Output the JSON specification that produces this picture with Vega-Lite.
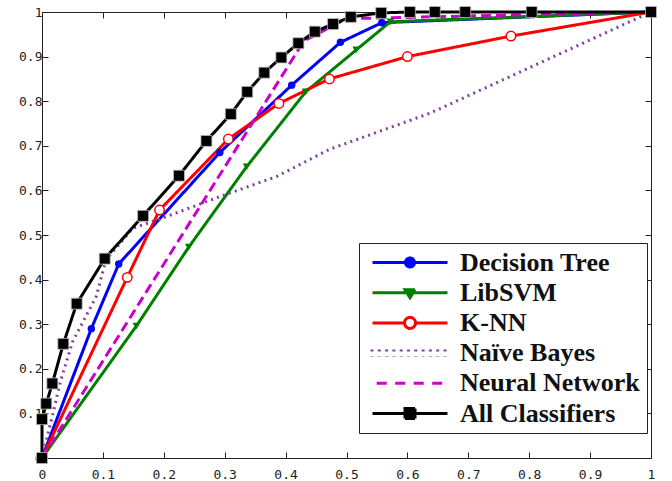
{
  "$schema": "https://vega.github.io/schema/vega-lite/v6.json",
  "autosize": {"type": "none"},
  "padding": {"left": 42, "top": 12, "right": 21, "bottom": 23},
  "width": 609,
  "height": 446,
  "background": "white",
  "config": {
    "view": {"stroke": "#222", "strokeWidth": 1},
    "axis": {"domain": false, "grid": false, "tickColor": "#222", "tickSize": -6, "labelFont": "DejaVu Sans Mono", "labelFontSize": 13, "labelColor": "#222", "labelFlush": false}
  },
  "data": {"values": [
    {"series": "Decision Tree", "fpr": 0, "tpr": 0},
    {"series": "Decision Tree", "fpr": 0.081, "tpr": 0.29},
    {"series": "Decision Tree", "fpr": 0.126, "tpr": 0.435},
    {"series": "Decision Tree", "fpr": 0.292, "tpr": 0.685},
    {"series": "Decision Tree", "fpr": 0.41, "tpr": 0.836},
    {"series": "Decision Tree", "fpr": 0.49, "tpr": 0.932},
    {"series": "Decision Tree", "fpr": 0.558, "tpr": 0.976},
    {"series": "Decision Tree", "fpr": 1, "tpr": 1},
    {"series": "LibSVM", "fpr": 0, "tpr": 0},
    {"series": "LibSVM", "fpr": 0.155, "tpr": 0.296},
    {"series": "LibSVM", "fpr": 0.241, "tpr": 0.473},
    {"series": "LibSVM", "fpr": 0.336, "tpr": 0.653},
    {"series": "LibSVM", "fpr": 0.433, "tpr": 0.821},
    {"series": "LibSVM", "fpr": 0.516, "tpr": 0.915},
    {"series": "LibSVM", "fpr": 0.572, "tpr": 0.978},
    {"series": "LibSVM", "fpr": 1, "tpr": 1},
    {"series": "K-NN", "fpr": 0, "tpr": 0},
    {"series": "K-NN", "fpr": 0.14, "tpr": 0.405},
    {"series": "K-NN", "fpr": 0.193, "tpr": 0.556},
    {"series": "K-NN", "fpr": 0.306, "tpr": 0.715},
    {"series": "K-NN", "fpr": 0.389, "tpr": 0.795},
    {"series": "K-NN", "fpr": 0.472, "tpr": 0.85},
    {"series": "K-NN", "fpr": 0.6, "tpr": 0.9},
    {"series": "K-NN", "fpr": 0.77, "tpr": 0.946},
    {"series": "K-NN", "fpr": 1, "tpr": 1},
    {"series": "Naïve Bayes", "fpr": 0, "tpr": 0},
    {"series": "Naïve Bayes", "fpr": 0.018, "tpr": 0.1},
    {"series": "Naïve Bayes", "fpr": 0.03, "tpr": 0.17},
    {"series": "Naïve Bayes", "fpr": 0.05, "tpr": 0.26},
    {"series": "Naïve Bayes", "fpr": 0.089, "tpr": 0.362},
    {"series": "Naïve Bayes", "fpr": 0.105, "tpr": 0.444},
    {"series": "Naïve Bayes", "fpr": 0.149, "tpr": 0.515},
    {"series": "Naïve Bayes", "fpr": 0.204, "tpr": 0.541},
    {"series": "Naïve Bayes", "fpr": 0.292, "tpr": 0.586},
    {"series": "Naïve Bayes", "fpr": 0.385, "tpr": 0.631},
    {"series": "Naïve Bayes", "fpr": 0.472, "tpr": 0.692},
    {"series": "Naïve Bayes", "fpr": 0.637, "tpr": 0.773},
    {"series": "Naïve Bayes", "fpr": 1, "tpr": 1},
    {"series": "Neural Network", "fpr": 0, "tpr": 0},
    {"series": "Neural Network", "fpr": 0.43, "tpr": 0.935},
    {"series": "Neural Network", "fpr": 0.5, "tpr": 0.985},
    {"series": "Neural Network", "fpr": 1, "tpr": 1},
    {"series": "All Classifiers", "fpr": 0, "tpr": 0},
    {"series": "All Classifiers", "fpr": 0, "tpr": 0.087},
    {"series": "All Classifiers", "fpr": 0.007, "tpr": 0.122},
    {"series": "All Classifiers", "fpr": 0.017, "tpr": 0.167},
    {"series": "All Classifiers", "fpr": 0.035, "tpr": 0.256},
    {"series": "All Classifiers", "fpr": 0.057, "tpr": 0.346},
    {"series": "All Classifiers", "fpr": 0.103, "tpr": 0.447},
    {"series": "All Classifiers", "fpr": 0.166, "tpr": 0.543},
    {"series": "All Classifiers", "fpr": 0.225, "tpr": 0.633},
    {"series": "All Classifiers", "fpr": 0.27, "tpr": 0.711},
    {"series": "All Classifiers", "fpr": 0.31, "tpr": 0.771},
    {"series": "All Classifiers", "fpr": 0.337, "tpr": 0.821},
    {"series": "All Classifiers", "fpr": 0.365, "tpr": 0.864},
    {"series": "All Classifiers", "fpr": 0.393, "tpr": 0.898},
    {"series": "All Classifiers", "fpr": 0.421, "tpr": 0.93},
    {"series": "All Classifiers", "fpr": 0.448, "tpr": 0.956},
    {"series": "All Classifiers", "fpr": 0.478, "tpr": 0.973},
    {"series": "All Classifiers", "fpr": 0.507, "tpr": 0.989},
    {"series": "All Classifiers", "fpr": 0.557, "tpr": 0.998},
    {"series": "All Classifiers", "fpr": 0.604, "tpr": 1},
    {"series": "All Classifiers", "fpr": 0.645, "tpr": 1},
    {"series": "All Classifiers", "fpr": 0.695, "tpr": 1},
    {"series": "All Classifiers", "fpr": 0.804, "tpr": 1},
    {"series": "All Classifiers", "fpr": 1, "tpr": 1}
  ]},
  "resolve": {"axis": {"x": "independent", "y": "independent"}},
  "layer": [
    {
      "mark": {"type": "line", "clip": false},
      "encoding": {
        "x": {"field": "fpr", "type": "quantitative", "scale": {"domain": [0, 1], "nice": false},
              "axis": {"title": null, "values": [0, 0.1, 0.2, 0.3, 0.4, 0.5, 0.6, 0.7, 0.8, 0.9, 1], "format": "~g", "labelPadding": 16}},
        "y": {"field": "tpr", "type": "quantitative", "scale": {"domain": [0, 1], "nice": false},
              "axis": {"title": null, "values": [0, 0.1, 0.2, 0.3, 0.4, 0.5, 0.6, 0.7, 0.8, 0.9, 1], "format": "~g", "labelPadding": 6}},
        "color": {"field": "series", "type": "nominal",
          "scale": {"domain": ["Decision Tree", "LibSVM", "K-NN", "Naïve Bayes", "Neural Network", "All Classifiers"],
                    "range": ["#0000FF", "#008000", "#FF0000", "#7E3F9E", "#CC00CC", "#000000"]},
          "legend": {
            "title": null, "orient": "none", "legendX": 317, "legendY": 231,
            "padding": 6.5, "rowPadding": 4.2, "strokeColor": "#222", "fillColor": "white",
            "symbolSize": 400, "symbolStrokeWidth": 2.5, "symbolOffset": 31.5, "labelOffset": 37,
            "labelFont": "Liberation Serif", "labelFontWeight": "bold", "labelFontSize": 26, "labelColor": "#111", "labelLimit": 400,
            "encode": {"symbols": {"update": {
              "shape": {"signal": "datum.value === 'Decision Tree' ? 'M-3.75,0H3.75M0.45,0A0.45,0.45,0,1,1,-0.45,0A0.45,0.45,0,1,1,0.45,0Z' : datum.value === 'LibSVM' ? 'M-3.75,0H3.75M-0.5,-0.3L0.5,-0.3L0,0.5Z' : datum.value === 'K-NN' ? 'M-3.75,0H-0.55M0.55,0H3.75M0.55,0A0.55,0.55,0,1,1,-0.55,0A0.55,0.55,0,1,1,0.55,0Z' : datum.value === 'Naïve Bayes' ? 'M-3.8,-0.35V0.35M-3.07,-0.35V0.35M-2.34,-0.35V0.35M-1.61,-0.35V0.35M-0.88,-0.35V0.35M-0.15,-0.35V0.35M0.58,-0.35V0.35M1.31,-0.35V0.35M2.04,-0.35V0.35M2.77,-0.35V0.35M3.5,-0.35V0.35' : datum.value === 'Neural Network' ? 'M-3.33,0H-1.93M-1.48,0H-0.08M0.37,0H1.77M2.22,0H3.5' : 'M-3.75,0H3.75M-0.5,-0.5H0.5V0.5H-0.5Z'"},
              "fill": {"signal": "datum.value === 'Decision Tree' ? '#0000FF' : datum.value === 'LibSVM' ? '#008000' : datum.value === 'K-NN' ? 'white' : datum.value === 'All Classifiers' ? 'black' : 'transparent'"},
              "strokeDash": {"value": []},
              "opacity": {"value": 1}
            }}}
          }},
        "strokeDash": {"field": "series", "type": "nominal", "legend": null,
          "scale": {"domain": ["Decision Tree", "LibSVM", "K-NN", "Naïve Bayes", "Neural Network", "All Classifiers"],
                    "range": [[1, 0], [1, 0], [1, 0], [2, 4.3], [10, 5], [1, 0]]}},
        "strokeWidth": {"field": "series", "type": "ordinal", "legend": null,
          "scale": {"domain": ["Decision Tree", "LibSVM", "K-NN", "Naïve Bayes", "Neural Network", "All Classifiers"],
                    "range": [3, 3, 3, 5, 3, 3]}}
      }
    },
    {
      "transform": [{"filter": "datum.series === 'Decision Tree'"}],
      "mark": {"type": "point", "shape": "circle", "filled": true, "color": "#0000FF", "opacity": 1, "size": 55, "clip": false},
      "encoding": {
        "x": {"field": "fpr", "type": "quantitative", "scale": {"domain": [0, 1], "nice": false},
              "axis": {"title": null, "orient": "top", "labels": false, "values": [0, 0.1, 0.2, 0.3, 0.4, 0.5, 0.6, 0.7, 0.8, 0.9, 1]}},
        "y": {"field": "tpr", "type": "quantitative", "scale": {"domain": [0, 1], "nice": false},
              "axis": {"title": null, "orient": "right", "labels": false, "values": [0, 0.1, 0.2, 0.3, 0.4, 0.5, 0.6, 0.7, 0.8, 0.9, 1]}}
      }
    },
    {
      "transform": [{"filter": "datum.series === 'LibSVM'"}],
      "mark": {"type": "point", "shape": "triangle-down", "filled": true, "color": "#008000", "opacity": 1, "size": 60, "clip": false},
      "encoding": {
        "x": {"field": "fpr", "type": "quantitative", "axis": null},
        "y": {"field": "tpr", "type": "quantitative", "axis": null}
      }
    },
    {
      "transform": [{"filter": "datum.series === 'K-NN'"}],
      "mark": {"type": "point", "shape": "circle", "filled": false, "fill": "#FFFFFF", "fillOpacity": 1, "stroke": "#FF0000", "strokeWidth": 1.5, "opacity": 1, "size": 90, "clip": false},
      "encoding": {
        "x": {"field": "fpr", "type": "quantitative", "axis": null},
        "y": {"field": "tpr", "type": "quantitative", "axis": null}
      }
    },
    {
      "transform": [{"filter": "datum.series === 'All Classifiers'"}],
      "mark": {"type": "point", "shape": "square", "filled": true, "fill": "#000000", "stroke": "#BBBBBB", "strokeWidth": 0.8, "opacity": 1, "size": 120, "clip": false},
      "encoding": {
        "x": {"field": "fpr", "type": "quantitative", "axis": null},
        "y": {"field": "tpr", "type": "quantitative", "axis": null}
      }
    }
  ]
}
